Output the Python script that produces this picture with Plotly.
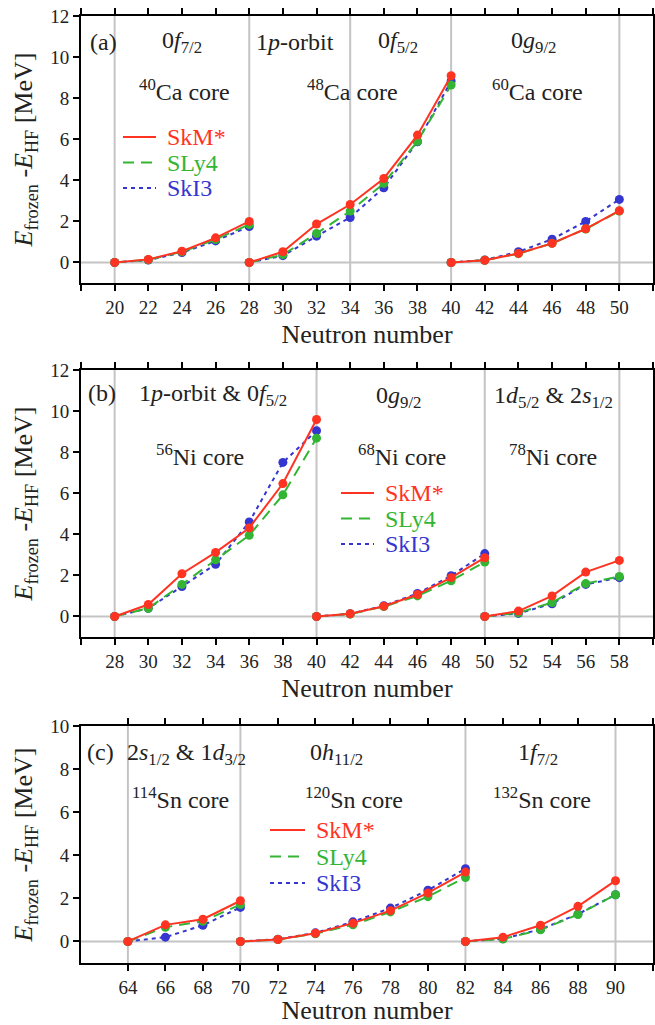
import plotly.graph_objects as go

# ---------------- data ----------------
# Panel (a): Ca isotopes
a_N1 = [20, 22, 24, 26, 28]
a_skm1 = [0, 0.15, 0.55, 1.20, 2.00]
a_sly1 = [0, 0.13, 0.52, 1.12, 1.85]
a_ski1 = [0, 0.12, 0.48, 1.05, 1.75]

a_N2 = [28, 30, 32, 34, 36, 38, 40]
a_skm2 = [0, 0.52, 1.87, 2.82, 4.09, 6.20, 9.09]
a_sly2 = [0, 0.38, 1.41, 2.50, 3.85, 5.90, 8.64]
a_ski2 = [0, 0.33, 1.28, 2.19, 3.64, 5.88, 8.83]

a_N3 = [40, 42, 44, 46, 48, 50]
a_skm3 = [0, 0.11, 0.44, 0.93, 1.64, 2.52]
a_sly3 = [0, 0.11, 0.43, 0.93, 1.63, 2.50]
a_ski3 = [0, 0.12, 0.52, 1.13, 2.00, 3.07]

# Panel (b): Ni isotopes
b_N1 = [28, 30, 32, 34, 36, 38, 40]
b_skm1 = [0, 0.58, 2.08, 3.12, 4.31, 6.47, 9.59]
b_sly1 = [0, 0.40, 1.56, 2.76, 3.95, 5.92, 8.68]
b_ski1 = [0, 0.40, 1.46, 2.54, 4.60, 7.50, 9.04]

b_N2 = [40, 42, 44, 46, 48, 50]
b_skm2 = [0, 0.13, 0.50, 1.07, 1.89, 2.86]
b_sly2 = [0, 0.12, 0.48, 1.00, 1.74, 2.65]
b_ski2 = [0, 0.13, 0.52, 1.12, 1.98, 3.06]

b_N3 = [50, 52, 54, 56, 58]
b_skm3 = [0, 0.26, 1.00, 2.16, 2.73]
b_sly3 = [0, 0.18, 0.68, 1.60, 1.95]
b_ski3 = [0, 0.15, 0.62, 1.56, 1.89]

# Panel (c): Sn isotopes
c_N1 = [64, 66, 68, 70]
c_skm1 = [0, 0.77, 1.03, 1.89]
c_sly1 = [0, 0.66, 0.94, 1.71]
c_ski1 = [0, 0.20, 0.75, 1.58]

c_N2 = [70, 72, 74, 76, 78, 80, 82]
c_skm2 = [0, 0.09, 0.38, 0.85, 1.43, 2.25, 3.22]
c_sly2 = [0, 0.09, 0.36, 0.77, 1.37, 2.08, 2.97]
c_ski2 = [0, 0.10, 0.40, 0.91, 1.55, 2.38, 3.38]

c_N3 = [82, 84, 86, 88, 90]
c_skm3 = [0, 0.20, 0.75, 1.63, 2.82]
c_sly3 = [0, 0.11, 0.54, 1.25, 2.17]
c_ski3 = [0, 0.13, 0.56, 1.27, 2.17]

forces = ["SkM*", "SLy4", "SkI3"]
shell_lines_a = [20, 28, 34, 40, 50]
shell_lines_b = [28, 40, 50, 58]
shell_lines_c = [64, 70, 82, 90]

# ---------------- style ----------------
W, H = 655, 1025
FONT = "Liberation Serif, Times New Roman, serif"
RED, GREEN, BLUE = "#ff3322", "#33b533", "#3535d0"
GRID = "#c4c4c4"
TXT = "#222222"
styles = {
    "SkM*": dict(color=RED, dash="solid"),
    "SLy4": dict(color=GREEN, dash="11px,7px"),
    "SkI3": dict(color=BLUE, dash="4px,4px"),
}

def px_x(p):
    return p / W

def px_y(p):
    return 1 - p / H

panels = [
    dict(xd=(81, 653), yd=(16, 283), xr=[18, 52], yr=[-1, 12],
         xt=list(range(18, 53, 2)), xlab=list(range(20, 51, 2)), yt=list(range(0, 13, 2)),
         groups=[(a_N1, a_skm1, a_sly1, a_ski1), (a_N2, a_skm2, a_sly2, a_ski2), (a_N3, a_skm3, a_sly3, a_ski3)],
         shells=shell_lines_a, leg=(123, 156, 137, 25.5)),
    dict(xd=(81, 653), yd=(370, 637), xr=[26, 60], yr=[-1, 12],
         xt=list(range(26, 61, 2)), xlab=list(range(28, 59, 2)), yt=list(range(0, 13, 2)),
         groups=[(b_N1, b_skm1, b_sly1, b_ski1), (b_N2, b_skm2, b_sly2, b_ski2), (b_N3, b_skm3, b_sly3, b_ski3)],
         shells=shell_lines_b, leg=(341, 374, 493, 25.5)),
    dict(xd=(81, 653), yd=(726, 963), xr=[61.5, 92], yr=[-1, 10],
         xt=list(range(64, 93, 2)), xlab=list(range(64, 91, 2)), yt=list(range(0, 11, 2)),
         groups=[(c_N1, c_skm1, c_sly1, c_ski1), (c_N2, c_skm2, c_sly2, c_ski2), (c_N3, c_skm3, c_sly3, c_ski3)],
         shells=shell_lines_c, leg=(270, 305, 830, 26.5)),
]

fig = go.Figure()
layout = dict(
    width=W, height=H, margin=dict(l=0, r=0, t=0, b=0, autoexpand=False),
    paper_bgcolor="white", plot_bgcolor="white",
    font=dict(family=FONT, size=19, color=TXT),
    showlegend=False,
    annotations=[], shapes=[],
)

def ann(text, x, y, size=24, color=TXT, xanchor="center"):
    layout["annotations"].append(dict(text=text, x=px_x(x), y=px_y(y), xref="paper", yref="paper",
                                      showarrow=False, xanchor=xanchor, yanchor="middle",
                                      font=dict(family=FONT, size=size, color=color)))

for i, p in enumerate(panels):
    sfx = "" if i == 0 else str(i + 1)
    xa, ya = "x" + sfx, "y" + sfx
    for s in p["shells"]:
        fig.add_trace(go.Scatter(x=[s, s], y=p["yr"], mode="lines", xaxis=xa, yaxis=ya,
                                 line=dict(color=GRID, width=2), hoverinfo="skip"))
    fig.add_trace(go.Scatter(x=p["xr"], y=[0, 0], mode="lines", xaxis=xa, yaxis=ya,
                             line=dict(color=GRID, width=2), hoverinfo="skip"))
    for fname, idx in [("SkI3", 3), ("SLy4", 2), ("SkM*", 1)]:
        st = styles[fname]
        for g in p["groups"]:
            fig.add_trace(go.Scatter(x=g[0], y=g[idx], mode="lines+markers", xaxis=xa, yaxis=ya,
                                     name=fname,
                                     line=dict(color=st["color"], width=2, dash=st["dash"]),
                                     marker=dict(color=st["color"], size=9)))
    # legend drawn as line samples + coloured labels
    x0, x1, y0, dy = p["leg"]
    for k, fname in enumerate(forces):
        st = styles[fname]
        yy = y0 + k * dy
        layout["shapes"].append(dict(type="line", xref="paper", yref="paper",
                                     x0=px_x(x0), x1=px_x(x1), y0=px_y(yy), y1=px_y(yy),
                                     line=dict(color=st["color"], width=2, dash=st["dash"])))
        ann(fname, x1 + 9, yy, size=24, color=st["color"], xanchor="left")

    common = dict(showline=True, linecolor="black", linewidth=2, mirror="allticks",
                  ticks="outside", tickcolor="black", tickwidth=2, ticklen=6,
                  showgrid=False, zeroline=False, automargin=False,
                  ticklabeloverflow="allow",
                  tickfont=dict(family=FONT, size=19, color=TXT))
    layout["xaxis" + sfx] = dict(
        domain=[px_x(p["xd"][0]), px_x(p["xd"][1])], range=p["xr"], anchor=ya,
        tickmode="array", tickvals=p["xt"],
        ticktext=[str(v) if v in p["xlab"] else "" for v in p["xt"]],
        title=dict(text="Neutron number", font=dict(family=FONT, size=26, color=TXT), standoff=8),
        **common)
    layout["yaxis" + sfx] = dict(
        domain=[px_y(p["yd"][1]), px_y(p["yd"][0])], range=p["yr"], anchor=xa,
        tickmode="array", tickvals=p["yt"],
        title=dict(text="<i>E</i><sub>frozen</sub> -<i>E</i><sub>HF</sub> [MeV]",
                   font=dict(family=FONT, size=26, color=TXT), standoff=10),
        **common)

ann("(a)", 103, 42)
ann("0<i>f</i><sub>7/2</sub>", 182, 42)
ann("1<i>p</i>-orbit", 295, 42)
ann("0<i>f</i><sub>5/2</sub>", 398, 42)
ann("0<i>g</i><sub>9/2</sub>", 533, 42)
ann("<sup>40</sup>Ca core", 184, 90)
ann("<sup>48</sup>Ca core", 352, 90)
ann("<sup>60</sup>Ca core", 537, 90)

ann("(b)", 102, 393)
ann("1<i>p</i>-orbit &amp; 0<i>f</i><sub>5/2</sub>", 213, 395)
ann("<sup>56</sup>Ni core", 200, 455)
ann("0<i>g</i><sub>9/2</sub>", 398, 397)
ann("<sup>68</sup>Ni core", 402, 455)
ann("1<i>d</i><sub>5/2</sub> &amp; 2<i>s</i><sub>1/2</sub>", 553, 397)
ann("<sup>78</sup>Ni core", 553, 455)

ann("(c)", 100, 752)
ann("2<i>s</i><sub>1/2</sub> &amp; 1<i>d</i><sub>3/2</sub>", 186, 754)
ann("<sup>114</sup>Sn core", 180, 798)
ann("0<i>h</i><sub>11/2</sub>", 336, 754)
ann("<sup>120</sup>Sn core", 354, 798)
ann("1<i>f</i><sub>7/2</sub>", 538, 754)
ann("<sup>132</sup>Sn core", 542, 798)

fig.update_layout(**layout)
fig.write_html("out.html", config={"displayModeBar": False},
               post_script="document.body.style.margin='0px'; document.body.style.overflow='hidden';")
